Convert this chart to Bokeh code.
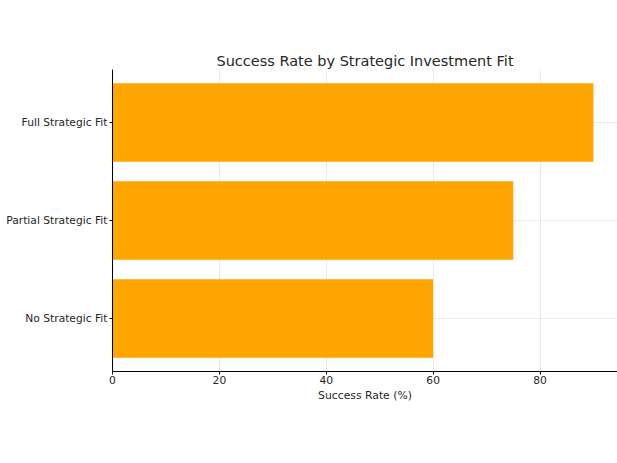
from bokeh.plotting import figure
from bokeh.models import FactorRange, SingleIntervalTicker
from bokeh.embed import file_html
from bokeh.resources import INLINE

categories = ["No Strategic Fit", "Partial Strategic Fit", "Full Strategic Fit"]
success_rate = [60, 75, 90]

FONT = "DejaVu Sans"

p = figure(
    width=617, height=463,
    y_range=FactorRange(factors=categories, range_padding=0.027),
    x_range=(0, 94.5),
    output_backend="svg", toolbar_location=None,
    title="Success Rate by Strategic Investment Fit",
    min_border_left=112, min_border_right=0, min_border_top=69, min_border_bottom=92,
)

p.hbar(y=categories, right=success_rate, left=0, height=0.8,
       fill_color="#FFA500", line_color=None)

p.title.text_font = FONT
p.title.text_font_size = "14.5px"
p.title.text_font_style = "normal"
p.title.text_color = "#262626"
p.title.align = "center"
p.title.offset = 0
p.title.standoff = 2

p.outline_line_color = None
p.background_fill_color = "white"
p.border_fill_color = "white"

p.xaxis.ticker = SingleIntervalTicker(interval=20)
p.xaxis.axis_label = "Success Rate (%)"
for ax in (p.xaxis, p.yaxis):
    ax.axis_line_color = "black"
    ax.axis_line_width = 1
    ax.major_tick_out = 3
    ax.major_tick_in = 0
    ax.minor_tick_out = 0
    ax.minor_tick_in = 0
    ax.major_tick_line_color = "black"
    ax.major_label_text_font = FONT
    ax.major_label_text_font_size = "10.7px"
    ax.major_label_text_color = "#262626"
    ax.axis_label_text_font = FONT
    ax.axis_label_text_font_size = "10.8px"
    ax.axis_label_text_font_style = "normal"
    ax.axis_label_text_color = "#262626"
p.xaxis.major_label_standoff = 1
p.xaxis.axis_label_standoff = 2
p.yaxis.major_label_standoff = 2

p.xgrid.grid_line_color = "#e6e6e6"
p.ygrid.grid_line_color = "#e6e6e6"
p.xgrid.grid_line_width = 0.8
p.ygrid.grid_line_width = 0.8

open("out.html", "w").write(file_html(p, INLINE))
